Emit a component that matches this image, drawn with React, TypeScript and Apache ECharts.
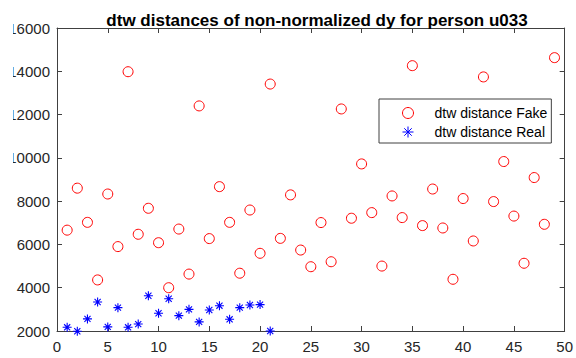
import React, { useEffect, useRef } from "react";
import * as echarts from "echarts";

const titleText = "dtw distances of non-normalized dy for person u033";
const fakeName = "dtw distance Fake";
const realName = "dtw distance Real";

const fakeX = [
  1, 2, 3, 4, 5, 6, 7, 8, 9, 10, 11, 12, 13, 14, 15, 16, 17, 18, 19, 20, 21, 22, 23, 24, 25,
  26, 27, 28, 29, 30, 31, 32, 33, 34, 35, 36, 37, 38, 39, 40, 41, 42, 43, 44, 45, 46, 47, 48, 49,
];
const fakeY = [
  6660, 8600, 7020, 4360, 8330, 5900, 13980, 6470, 7670, 6080, 4000, 6710, 4630, 12400, 6270,
  8670, 7020, 4670, 7590, 5590, 13410, 6280, 8290, 5740, 4970, 7010, 5200, 12260, 7210, 9720,
  7470, 5000, 8240, 7240, 14260, 6870, 8560, 6760, 4390, 8120, 6160, 13740, 7980, 9830, 7310,
  5130, 9090, 6930, 14630,
];

const realX = [1, 2, 3, 4, 5, 6, 7, 8, 9, 10, 11, 12, 13, 14, 15, 16, 17, 18, 19, 20, 21];
const realY = [
  2170, 1990, 2560, 3340, 2190, 3080, 2170, 2320, 3630, 2820, 3490, 2710, 3000, 2420, 2970,
  3170, 2540, 3080, 3200, 3220, 2000,
];

const xMin = 0;
const xMax = 50;
const xStep = 5;
const yMin = 2000;
const yMax = 16000;
const yStep = 2000;

const FONT = 'Arial, "Liberation Sans", Helvetica, sans-serif';
const AXIS = "#404040";
const LABEL = "#262626";
const STAR = "path://M0 5L10 5M5 0L5 10M1.6 1.6L8.4 8.4M8.4 1.6L1.6 8.4";

export default function App() {
  const ref = useRef<HTMLDivElement>(null);

  useEffect(() => {
    if (!ref.current) return;
    const chart = echarts.init(ref.current, undefined, { renderer: "svg" });

    const tick = { show: true, inside: true, length: 5, lineStyle: { color: AXIS, width: 1 } };
    const line = { show: true, onZero: false, lineStyle: { color: AXIS, width: 1 } };
    const plain = (v: number) => String(v);

    chart.setOption({
      animation: false,
      backgroundColor: "#fff",
      title: {
        text: titleText,
        left: 312,
        textAlign: "center",
        top: 7,
        textStyle: { fontFamily: FONT, fontSize: 17, fontWeight: "bold", color: "#000" },
      },
      grid: { left: 57, right: 8, top: 28, bottom: 27, containLabel: false },
      xAxis: [
        {
          type: "value",
          min: xMin,
          max: xMax,
          interval: xStep,
          position: "bottom",
          axisLine: line,
          axisTick: tick,
          splitLine: { show: false },
          axisLabel: { fontFamily: FONT, fontSize: 15, color: LABEL, margin: 8, formatter: plain },
        },
        {
          type: "value",
          min: xMin,
          max: xMax,
          interval: xStep,
          position: "top",
          axisLine: line,
          axisTick: tick,
          splitLine: { show: false },
          axisLabel: { show: false },
        },
      ],
      yAxis: [
        {
          type: "value",
          min: yMin,
          max: yMax,
          interval: yStep,
          position: "left",
          axisLine: line,
          axisTick: tick,
          splitLine: { show: false },
          axisLabel: { fontFamily: FONT, fontSize: 15, color: LABEL, margin: 7, formatter: plain },
        },
        {
          type: "value",
          min: yMin,
          max: yMax,
          interval: yStep,
          position: "right",
          axisLine: line,
          axisTick: tick,
          splitLine: { show: false },
          axisLabel: { show: false },
        },
      ],
      legend: {
        orient: "vertical",
        left: 379,
        top: 99,
        padding: [7, 4, 4, 23],
        itemGap: 5,
        itemWidth: 11,
        itemHeight: 11,
        borderColor: AXIS,
        borderWidth: 1,
        borderRadius: 0,
        backgroundColor: "#fff",
        itemStyle: { borderWidth: 1 },
        textStyle: { fontFamily: FONT, fontSize: 14, color: "#000", padding: [0, 0, 0, 16] },
        data: [fakeName, realName],
      },
      graphic: [
        {
          type: "rect",
          left: 0,
          top: 0,
          z: 100,
          shape: { width: 13, height: 358 },
          style: { fill: "#fff" },
        },
      ],
      series: [
        {
          name: fakeName,
          type: "scatter",
          clip: false,
          symbol: "circle",
          symbolSize: 10,
          itemStyle: { color: "transparent", borderColor: "#ff0000", borderWidth: 1, opacity: 1 },
          data: fakeX.map((x, i) => [x, fakeY[i]]),
        },
        {
          name: realName,
          type: "scatter",
          clip: false,
          symbol: STAR,
          symbolSize: 9,
          itemStyle: { color: "transparent", borderColor: "#0000ff", borderWidth: 1.1, opacity: 1 },
          data: realX.map((x, i) => [x, realY[i]]),
        },
      ],
    });

    return () => chart.dispose();
  }, []);

  return (
    <div
      ref={ref}
      style={{ position: "fixed", left: 0, top: 0, width: 576, height: 358, background: "#fff" }}
    />
  );
}
